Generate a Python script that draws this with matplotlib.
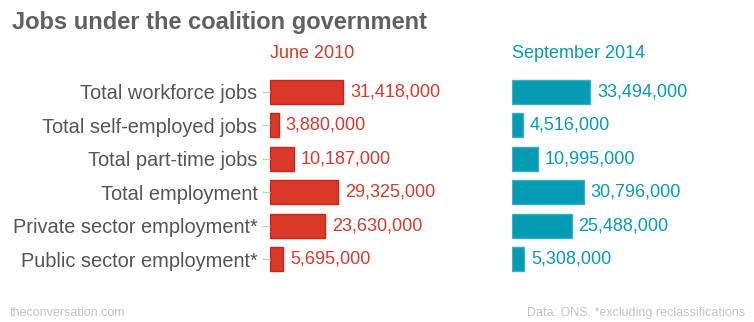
import matplotlib
matplotlib.use("Agg")
import matplotlib.pyplot as plt

plt.rcParams['font.family'] = ['Liberation Sans', 'DejaVu Sans']

categories = ["Total workforce jobs", "Total self-employed jobs", "Total part-time jobs",
              "Total employment", "Private sector employment*", "Public sector employment*"]
june_2010 = [31418000, 3880000, 10187000, 29325000, 23630000, 5695000]
sept_2014 = [33494000, 4516000, 10995000, 30796000, 25488000, 5308000]
series_titles = ["June 2010", "September 2014"]

W, H = 754, 322
fig = plt.figure(figsize=(W / 100, H / 100), dpi=100)

red = '#da3829'
red_edge = '#cc2418'
teal = '#069bb4'
teal_edge = '#3aaec3'
xmax = 98.5e6

def fx(px):
    return px / W

def fy(py):
    return 1 - py / H

top, bottom = 75, 276
ax1 = fig.add_axes([fx(270), fy(bottom), fx(230), (bottom - top) / H])
ax2 = fig.add_axes([fx(512), fy(bottom), fx(230), (bottom - top) / H])

y = list(range(len(categories)))
for ax, vals, col, ec in [(ax1, june_2010, red, red_edge), (ax2, sept_2014, teal, teal_edge)]:
    ax.barh(y, vals, height=0.72, color=col, edgecolor=ec, linewidth=1)
    ax.set_xlim(0, xmax)
    ax.set_ylim(len(categories) - 0.5, -0.5)
    for s in ax.spines.values():
        s.set_visible(False)
    ax.set_xticks([])
    for yi, v in zip(y, vals):
        ax.text(v + 2.9e6, yi, f"{v:,}", va='center', ha='left', fontsize=13, color=col)

ax1.set_yticks(y)
ax1.set_yticklabels(categories, fontsize=14.4, color='#555555')
ax1.tick_params(axis='y', length=6, width=1, color='#cccccc', pad=3)
ax2.set_yticks([])

fig.text(fx(12), fy(23), "Jobs under the coalition government", fontsize=17, fontweight='bold',
         color='#606060', ha='left', va='center')
fig.text(fx(270), fy(54), series_titles[0], fontsize=13, color=red, ha='left', va='center')
fig.text(fx(512), fy(54), series_titles[1], fontsize=13, color=teal, ha='left', va='center')
fig.text(fx(10), fy(313), "theconversation.com", fontsize=9, color='#c4c4c4', ha='left', va='center')
fig.text(fx(745), fy(313), "Data: ONS. *excluding reclassifications", fontsize=9, color='#c4c4c4',
         ha='right', va='center')

fig.savefig("out.png", dpi=100)
